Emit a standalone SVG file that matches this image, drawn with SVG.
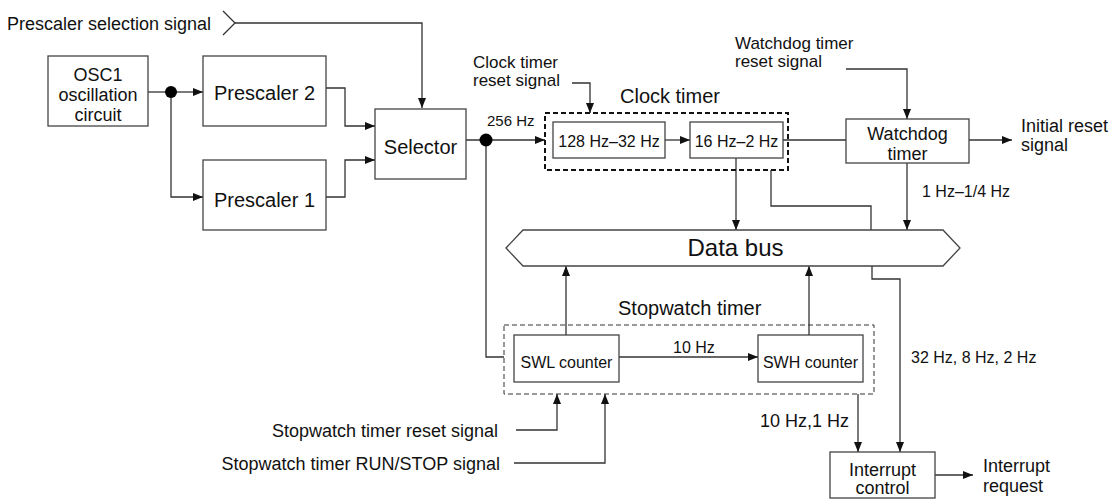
<svg xmlns="http://www.w3.org/2000/svg" width="1118" height="501" viewBox="0 0 1118 501">
  <style>
    text { font-family: "Liberation Sans", Arial, sans-serif; fill: #111; }
    .box { fill: #fff; stroke: #444; stroke-width: 1.3; }
    .dash2 { fill: none; stroke: #111; stroke-width: 2; stroke-dasharray: 5 3; }
    .dash1 { fill: none; stroke: #333; stroke-width: 1; stroke-dasharray: 5 3; }
    .wire { fill: none; stroke: #333; stroke-width: 1.3; }
    .arr { marker-end: url(#ah); }
    .c { text-anchor: middle; }
    .e { text-anchor: end; }
    .s15 { font-size: 15px; }
    .s16 { font-size: 16px; }
    .s17 { font-size: 17px; }
    .s18 { font-size: 18px; }
    .s20 { font-size: 20px; }
    .s24 { font-size: 24px; }
  </style>
  <defs>
    <marker id="ah" viewBox="0 0 10 8" refX="10" refY="4" markerWidth="10" markerHeight="8" orient="auto" markerUnits="userSpaceOnUse">
      <path d="M0,0 L10,4 L0,8 z" fill="#111"/>
    </marker>
  </defs>

  <rect width="1118" height="501" fill="#fff"/>

  <!-- connectors -->
  <g id="connectors">
    <polyline class="wire" points="223,11 235,23 223,35"/>
    <path class="wire arr" d="M235,23 H422 V108"/>
    <path class="wire" d="M148,92 H171"/>
    <path class="wire arr" d="M171,92 H203"/>
    <path class="wire arr" d="M171,92 V197 H203"/>
    <path class="wire arr" d="M326,88 H345 V126 H375"/>
    <path class="wire arr" d="M326,197 H345 V160 H375"/>
    <path class="wire arr" d="M466,140 H545"/>
    <path class="wire arr" d="M572,83 H590 V113"/>
    <path class="wire arr" d="M665,140 H690"/>
    <path class="wire" d="M783,140 H846"/>
    <path class="wire arr" d="M846,69 H907 V119"/>
    <path class="wire arr" d="M969,140 H1012"/>
    <path class="wire arr" d="M907,163 V230"/>
    <path class="wire arr" d="M736,158 V230"/>
    <path class="wire" d="M771,170 V206 H871 V230"/>
    <path class="wire" d="M486,140 V357 H504"/>
    <path class="wire arr" d="M566,335 V266"/>
    <path class="wire arr" d="M619,357 H758"/>
    <path class="wire arr" d="M809,335 V266"/>
    <path class="wire arr" d="M516,430 H557 V394"/>
    <path class="wire arr" d="M514,463 H605 V394"/>
    <path class="wire arr" d="M872,266 V279 H900 V452"/>
    <path class="wire arr" d="M858,394 V452"/>
    <path class="wire arr" d="M935,475 H973"/>
    <circle cx="171" cy="92" r="6" fill="#000"/>
    <circle cx="486" cy="140" r="6.5" fill="#000"/>
  </g>

  <!-- free-standing signal labels -->
  <g id="labels">
    <text class="s18" x="7" y="30">Prescaler selection signal</text>
    <text class="s17" x="473" y="68">Clock timer</text>
    <text class="s17" x="473" y="86">reset signal</text>
    <text class="s15" x="487" y="126">256 Hz</text>
    <text class="s17" x="735" y="49">Watchdog timer</text>
    <text class="s17" x="735" y="67">reset signal</text>
    <text class="s18" x="1021" y="132">Initial reset</text>
    <text class="s18" x="1021" y="151">signal</text>
    <text class="s16" x="922" y="197">1 Hz–1/4 Hz</text>
    <text class="s16" x="673" y="353">10 Hz</text>
    <text class="s18 e" x="498" y="437">Stopwatch timer reset signal</text>
    <text class="s18 e" x="500" y="470">Stopwatch timer RUN/STOP signal</text>
    <text class="s16" x="911" y="363">32 Hz, 8 Hz, 2 Hz</text>
    <text class="s18" x="760" y="427">10 Hz,1 Hz</text>
    <text class="s18" x="983" y="472">Interrupt</text>
    <text class="s18" x="983" y="492">request</text>
  </g>

  <g id="osc1">
    <rect class="box" x="48" y="56" width="100" height="70"/>
    <text class="s18 c" x="98" y="81">OSC1</text>
    <text class="s18 c" x="98" y="101">oscillation</text>
    <text class="s18 c" x="98" y="121">circuit</text>
  </g>

  <g id="prescaler2">
    <rect class="box" x="203" y="56" width="123" height="70"/>
    <text class="s20 c" x="264.5" y="100">Prescaler 2</text>
  </g>

  <g id="prescaler1">
    <rect class="box" x="203" y="160" width="123" height="70"/>
    <text class="s20 c" x="264.5" y="207">Prescaler 1</text>
  </g>

  <g id="selector">
    <rect class="box" x="375" y="109" width="91" height="70"/>
    <text class="s20 c" x="420.5" y="154">Selector</text>
  </g>

  <g id="clock-timer">
    <rect class="dash2" x="545" y="113" width="243" height="57"/>
    <text class="s20" x="620" y="103">Clock timer</text>
    <g id="div-128-32">
      <rect class="box" x="553" y="122" width="112" height="36"/>
      <text class="s16 c" x="609" y="147">128 Hz–32 Hz</text>
    </g>
    <g id="div-16-2">
      <rect class="box" x="690" y="122" width="93" height="36"/>
      <text class="s16 c" x="736.5" y="147">16 Hz–2 Hz</text>
    </g>
  </g>

  <g id="watchdog">
    <rect class="box" x="846" y="119" width="123" height="44"/>
    <text class="s18 c" x="907.5" y="140">Watchdog</text>
    <text class="s18 c" x="907.5" y="160">timer</text>
  </g>

  <g id="data-bus">
    <polygon class="box" points="506,248 523,230 943,230 960,248 943,266 523,266"/>
    <text class="s24 c" x="735.5" y="256">Data bus</text>
  </g>

  <g id="stopwatch-timer">
    <rect class="dash1" x="504" y="325" width="370" height="69"/>
    <text class="s20" x="618" y="315">Stopwatch timer</text>
    <g id="swl">
      <rect class="box" x="514" y="335" width="105" height="47"/>
      <text class="s16 c" x="566.5" y="368">SWL counter</text>
    </g>
    <g id="swh">
      <rect class="box" x="758" y="335" width="105" height="47"/>
      <text class="s16 c" x="810.5" y="368">SWH counter</text>
    </g>
  </g>

  <g id="interrupt-control">
    <rect class="box" x="830" y="452" width="105" height="46"/>
    <text class="s18 c" x="882.5" y="476">Interrupt</text>
    <text class="s18 c" x="882.5" y="494">control</text>
  </g>
</svg>
